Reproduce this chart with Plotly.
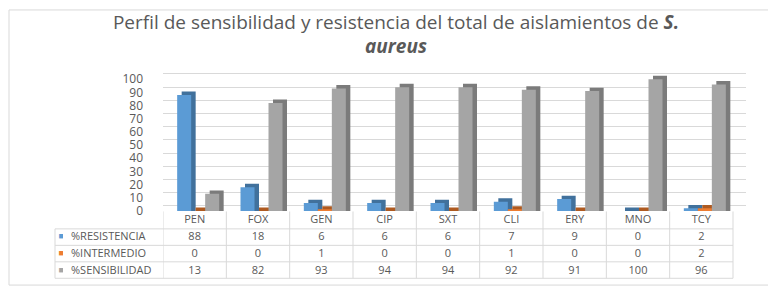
import plotly.graph_objects as go

categories = ["PEN", "FOX", "GEN", "CIP", "SXT", "CLI", "ERY", "MNO", "TCY"]
series_names = ["%RESISTENCIA", "%INTERMEDIO", "%SENSIBILIDAD"]
resistencia = [88, 18, 6, 6, 6, 7, 9, 0, 2]
intermedio = [0, 0, 1, 0, 0, 1, 0, 0, 2]
sensibilidad = [13, 82, 93, 94, 94, 92, 91, 100, 96]
y_ticks = [0, 10, 20, 30, 40, 50, 60, 70, 80, 90, 100]

W, H = 776, 287
front_colors = ["#5b9bd5", "#ed7d31", "#a5a5a5"]
side_colors = ["#41719c", "#ae5a21", "#7b7b7b"]
text_color = "#595959"
grid_color = "#d9d9d9"
FONT = "Open Sans"

col_px = 63.33
bar_w = 14 / col_px
offsets = [-17.5 / col_px, -3.5 / col_px, 10.5 / col_px]
dx = 4.5 / col_px
dy = 2.6

all_series = [resistencia, intermedio, sensibilidad]
x_idx = list(range(len(categories)))

fig = go.Figure()
for vals, off, fc, sc, name in zip(all_series, offsets, front_colors, side_colors, series_names):
    fig.add_trace(go.Bar(
        x=x_idx, y=[v + dy for v in vals], base=0, offset=off + dx, width=bar_w,
        marker=dict(color=sc, line=dict(width=0)), showlegend=False, hoverinfo="skip"))
    fig.add_trace(go.Bar(
        x=x_idx, y=vals, offset=off, width=bar_w, name=name,
        marker=dict(color=fc, line=dict(width=0)), showlegend=False,
        customdata=categories, hovertemplate="%{customdata}: %{y}<extra>" + name + "</extra>"))

# invisible trace to carry back-wall grid axis
fig.add_trace(go.Scatter(x=[0], y=[0], yaxis="y2", mode="markers",
                         marker=dict(opacity=0), showlegend=False, hoverinfo="skip"))

# data table (text via go.Table, grid lines drawn as layout lines)
tbl_left, tbl_right = 47, 725
tbl_top, row_h = 210, 17
text_lift = 5.5
n_rows = len(series_names)
tbl_bottom = tbl_top + row_h * (n_rows + 1)
mark_w, label_w = 8, 100
nb = "\u00a0"

header_vals = ["", ""] + categories
cell_cols = [[nb * 2 + "■"] * n_rows, list(series_names)]
for i in range(len(categories)):
    cell_cols.append([str(resistencia[i]), str(intermedio[i]), str(sensibilidad[i])])
font_colors = [front_colors, [text_color] * n_rows] + [[text_color] * n_rows] * len(categories)
font_sizes = [9, 11] + [11] * len(categories)
no_line = "rgba(0,0,0,0)"

fig.add_trace(go.Table(
    domain=dict(x=[tbl_left / W, tbl_right / W],
                y=[0, (H - tbl_top + text_lift) / H]),
    columnwidth=[mark_w, label_w] + [col_px] * len(categories),
    header=dict(values=header_vals, height=row_h, fill_color="rgba(0,0,0,0)",
                line=dict(color=no_line, width=0),
                font=dict(family=FONT, size=11, color=text_color), align="center"),
    cells=dict(values=cell_cols, height=row_h, fill_color="rgba(0,0,0,0)",
               line=dict(color=no_line, width=0),
               font=dict(family=FONT, size=font_sizes, color=font_colors),
               align=["center", "left"] + ["center"] * len(categories)),
))

shapes = []
line_style = dict(color=grid_color, width=1)
for r in range(n_rows + 1):
    yy = (H - (tbl_top + row_h * (r + 1))) / H
    shapes.append(dict(type="line", xref="paper", yref="paper",
                       x0=tbl_left / W, x1=tbl_right / W, y0=yy, y1=yy, line=line_style))
shapes.append(dict(type="line", xref="paper", yref="paper",
                   x0=tbl_left / W, x1=tbl_left / W,
                   y0=(H - tbl_bottom) / H, y1=(H - tbl_top - row_h) / H, line=line_style))
for i in range(len(categories) + 1):
    shapes.append(dict(type="line", xref="x", yref="paper",
                       x0=i - 0.5, x1=i - 0.5,
                       y0=(H - tbl_bottom) / H, y1=(H - tbl_top + 1) / H, line=line_style))
shapes.append(dict(type="rect", xref="paper", yref="paper",
                   x0=1 / W, x1=774 / W, y0=(H - 285) / H, y1=(H - 1) / H,
                   line=dict(color=grid_color, width=1), fillcolor="rgba(0,0,0,0)", layer="below"))

px_per_unit = 1.36
y_bottom = 208.5
y_top_val = 106
y_top_px = y_bottom - y_top_val * px_per_unit
shift = 4.0

fig.update_layout(
    width=W, height=H,
    margin=dict(l=0, r=0, t=0, b=0),
    paper_bgcolor="white", plot_bgcolor="rgba(0,0,0,0)",
    barmode="overlay",
    font=dict(family=FONT, color=text_color),
    title=dict(
        text="Perfil de sensibilidad y resistencia del total de aislamientos de <b><i>S.</i></b><br><b><i>aureus</i></b>",
        x=0.5, xanchor="center", y=1 - 20.5 / H, yanchor="middle",
        font=dict(family=FONT, size=19, color=text_color)),
    xaxis=dict(domain=[155 / W, 738 / W], range=[-0.5, 8.5 + 13 / col_px],
               showticklabels=False, showgrid=False, zeroline=False, showline=False),
    yaxis=dict(domain=[(H - y_bottom) / H, (H - y_top_px) / H], range=[0, y_top_val],
               tickvals=y_ticks, showgrid=False, zeroline=False, showline=False,
               tickfont=dict(family=FONT, size=12, color=text_color), ticklabelstandoff=19),
    yaxis2=dict(overlaying="y", range=[-shift, y_top_val - shift], tickvals=y_ticks,
                showticklabels=False, showgrid=True, gridcolor=grid_color, gridwidth=1,
                zeroline=False, showline=False),
    shapes=shapes,
)

fig.write_html("out.html")
